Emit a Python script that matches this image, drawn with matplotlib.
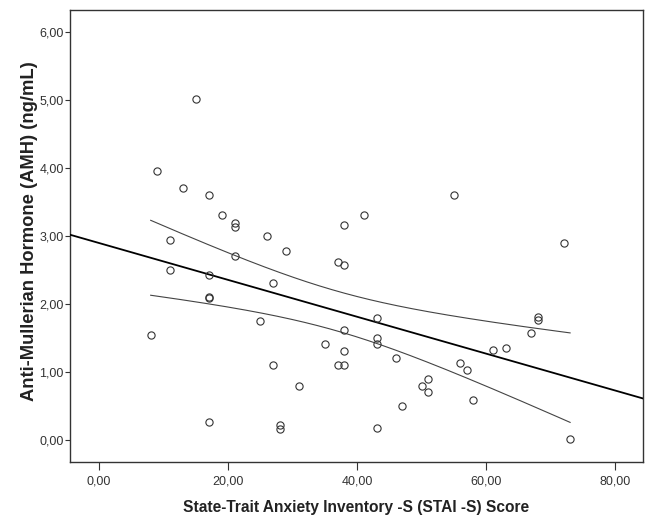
import numpy as np
import matplotlib
matplotlib.use("Agg")
import matplotlib.pyplot as plt
from matplotlib.ticker import FuncFormatter

# STAI-S score vs AMH (ng/mL)
stai_s = [8, 9, 11, 11, 13, 15, 17, 17, 17, 17, 17, 19, 21, 21, 21, 25, 26, 27, 27,
          28, 28, 29, 31, 35, 37, 37, 38, 38, 38, 38, 38, 41, 43, 43, 43, 43, 46, 47,
          50, 51, 51, 55, 56, 57, 58, 61, 63, 67, 68, 68, 72, 73]
amh = [1.55, 3.96, 2.95, 2.50, 3.71, 5.02, 3.60, 2.43, 2.10, 2.09, 0.26, 3.31, 3.19, 3.13,
       2.71, 1.75, 3.01, 2.31, 1.10, 0.22, 0.16, 2.78, 0.80, 1.41, 2.62, 1.10, 3.16, 2.58,
       1.62, 1.31, 1.10, 3.31, 1.80, 1.50, 1.41, 0.18, 1.20, 0.50, 0.80, 0.90, 0.70, 3.60,
       1.13, 1.03, 0.59, 1.33, 1.35, 1.57, 1.81, 1.77, 2.90, 0.01]

x_ticks = [0, 20, 40, 60, 80]
y_ticks = [0, 1, 2, 3, 4, 5, 6]
x_label = "State-Trait Anxiety Inventory -S (STAI -S) Score"
y_label = "Anti-Mullerian Hormone (AMH) (ng/mL)"

plt.rcParams["font.family"] = ["Liberation Sans", "DejaVu Sans"]

x = np.array(stai_s, dtype=float)
y = np.array(amh, dtype=float)
n = len(x)

# least squares fit + 95% CI of the mean
slope, intercept = np.polyfit(x, y, 1)
resid = y - (intercept + slope * x)
s = np.sqrt(np.sum(resid ** 2) / (n - 2))
sxx = np.sum((x - x.mean()) ** 2)
t_crit = 2.009  # t(0.975, df=50)

fig = plt.figure(figsize=(6.46, 5.15), dpi=100)
ax = fig.add_axes([0.1084, 0.1029, 0.887, 0.8777])

xlim = (-4.5, 84.3)
ax.set_xlim(*xlim)
ax.set_ylim(-0.324, 6.33)

xs = np.linspace(*xlim, 200)
ax.plot(xs, intercept + slope * xs, color="black", lw=1.3, zorder=3)

xc = np.linspace(x.min(), x.max(), 200)
yc = intercept + slope * xc
half = t_crit * s * np.sqrt(1 / n + (xc - x.mean()) ** 2 / sxx)
ax.plot(xc, yc + half, color="#444444", lw=0.8, zorder=3)
ax.plot(xc, yc - half, color="#444444", lw=0.8, zorder=3)

ax.plot(x, y, "o", ms=5.2, mfc="none", mec="#333333", mew=0.8, zorder=4)

ax.set_xticks(x_ticks)
ax.set_yticks(y_ticks)
fmt = FuncFormatter(lambda v, pos: f"{v:.2f}".replace(".", ","))
ax.xaxis.set_major_formatter(fmt)
ax.yaxis.set_major_formatter(fmt)
ax.tick_params(axis="x", length=5.5, width=0.8, pad=4.5, labelsize=9, colors="#333333")
ax.tick_params(axis="y", length=3.5, width=0.8, pad=1, labelsize=9, colors="#333333")

for side in ax.spines.values():
    side.set_color("#333333")
    side.set_linewidth(1.0)

ax.set_xlabel(x_label, fontsize=11.2, fontweight="bold", color="#222222", labelpad=9)
ax.set_ylabel(y_label, fontsize=13.2, fontweight="bold", color="#222222")
ax.yaxis.set_label_coords(-0.056, 0.51)

fig.savefig("out.png", dpi=100)
